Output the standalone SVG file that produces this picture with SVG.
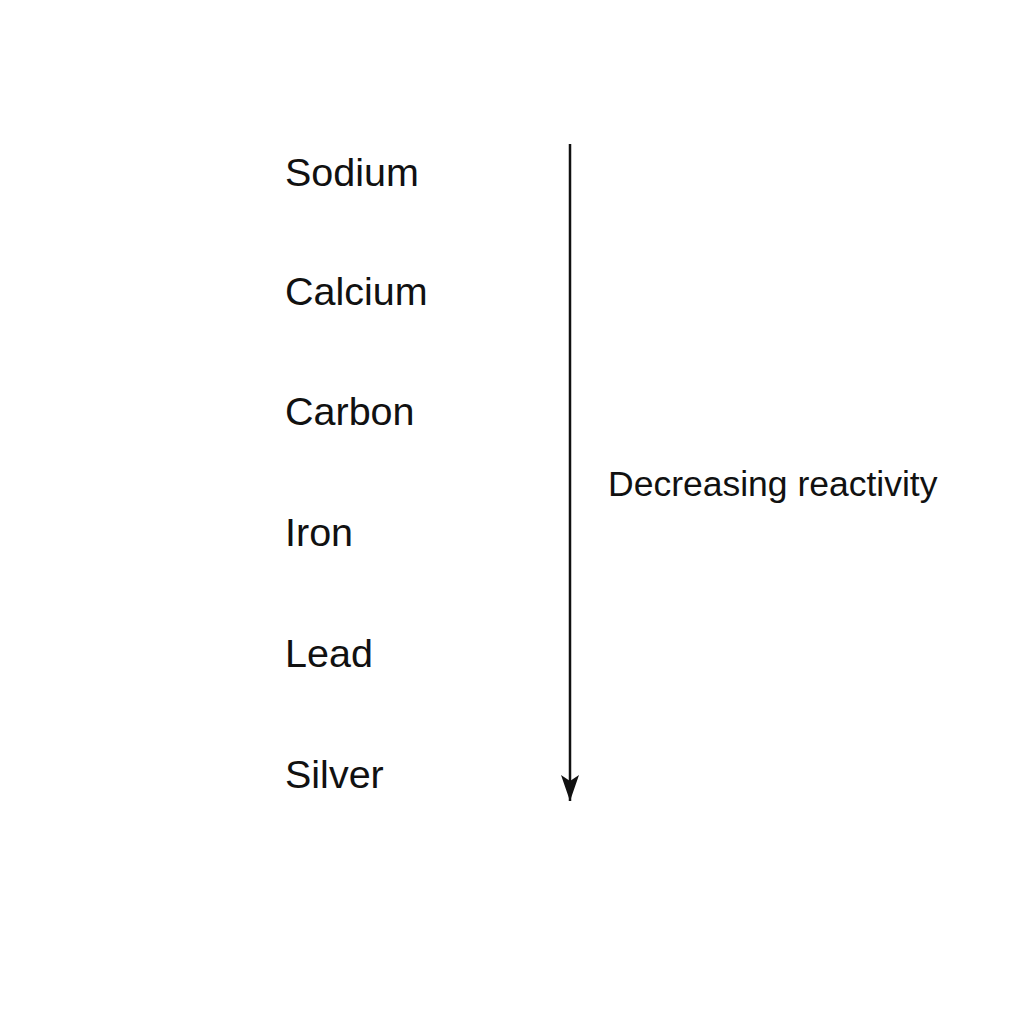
<svg xmlns="http://www.w3.org/2000/svg" width="1024" height="1024" viewBox="0 0 1024 1024">
<style>
.lbl{font-family:"Liberation Sans",Arial,sans-serif;font-size:39.5px;fill:#111}
.side{font-family:"Liberation Sans",Arial,sans-serif;font-size:35.5px;fill:#111}
</style>
<defs>
<marker id="ah" viewBox="0 0 26 18" refX="26" refY="9" markerWidth="26" markerHeight="18" markerUnits="userSpaceOnUse" orient="auto">
<path d="M0,0 L26,9 L0,18 L6,9 Z" fill="#111"/>
</marker>
</defs>
<rect width="1024" height="1024" fill="#fff"/>
<g id="connectors">
<line x1="570" y1="144" x2="570" y2="801" stroke="#111" stroke-width="2.5" marker-end="url(#ah)"/>
</g>
<g id="sodium"><text class="lbl" x="285" y="186">Sodium</text></g>
<g id="calcium"><text class="lbl" x="285" y="305">Calcium</text></g>
<g id="carbon"><text class="lbl" x="285" y="425">Carbon</text></g>
<g id="iron"><text class="lbl" x="285" y="546">Iron</text></g>
<g id="lead"><text class="lbl" x="285" y="667">Lead</text></g>
<g id="silver"><text class="lbl" x="285" y="788">Silver</text></g>
<g id="label"><text class="side" x="608" y="496">Decreasing reactivity</text></g>
</svg>
